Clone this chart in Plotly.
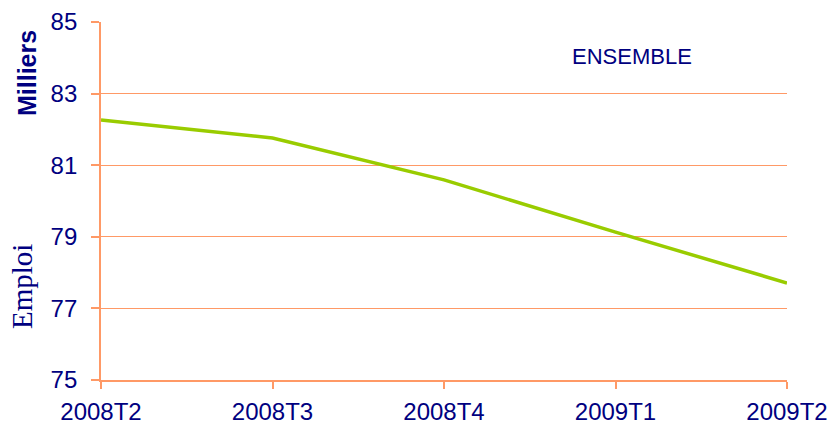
import plotly.graph_objects as go

categories = ["2008T2", "2008T3", "2008T4", "2009T1", "2009T2"]
emploi = [82.26, 81.76, 80.59, 79.13, 77.71]
y_ticks = [75, 77, 79, 81, 83, 85]

NAVY = "#000080"
GRID = "#FF9966"
LINE = "#99CC00"

W, H = 831, 430
l, r, t, b = 101, 44, 22, 50
pw, ph = W - l - r, H - t - b


def px(xp, yp):
    return (xp - l) / pw, 1 - (yp - t) / ph


fig = go.Figure()
fig.add_trace(go.Scatter(x=categories, y=emploi, mode="lines",
                         line=dict(color=LINE, width=3.5), showlegend=False,
                         hoverinfo="x+y"))

fig.update_layout(
    width=W, height=H,
    margin=dict(l=l, r=r, t=t, b=b, autoexpand=False),
    paper_bgcolor="white", plot_bgcolor="white",
    font=dict(family="Liberation Sans, Arial", color=NAVY, size=24),
    xaxis=dict(type="category", range=[0, 4], showgrid=False, automargin=False,
               showline=True, linecolor=GRID, linewidth=1.5,
               ticks="outside", ticklen=7, tickcolor=GRID, tickwidth=1.5,
               ticklabelstandoff=2,
               tickfont=dict(size=24, color=NAVY), zeroline=False),
    yaxis=dict(range=[75, 85], tickvals=y_ticks, showgrid=True, automargin=False,
               gridcolor=GRID, gridwidth=1.3,
               showline=True, linecolor=GRID, linewidth=1.8,
               ticks="outside", ticklen=8, tickcolor=GRID, tickwidth=1.5,
               ticklabelstandoff=9,
               tickfont=dict(size=24, color=NAVY), zeroline=False),
)

ax, ay = px(632, 57)
fig.add_annotation(text="ENSEMBLE", x=ax, y=ay, xref="paper", yref="paper",
                   xanchor="center", yanchor="middle",
                   showarrow=False, font=dict(size=22, color=NAVY,
                                              family="Liberation Sans, Arial"))
mx, my = px(27, 73)
fig.add_annotation(text="<b>Milliers</b>", x=mx, y=my, xref="paper", yref="paper",
                   xanchor="center", yanchor="middle",
                   showarrow=False, textangle=-90,
                   font=dict(size=25, color=NAVY, family="Liberation Sans, Arial"))
ex, ey = px(22, 287)
fig.add_annotation(text="Emploi", x=ex, y=ey, xref="paper", yref="paper",
                   xanchor="center", yanchor="middle",
                   showarrow=False, textangle=-90,
                   font=dict(size=29, color=NAVY, family="Liberation Serif, Times New Roman"))

fig.write_html("out.html", config={"displayModeBar": False},
               post_script="document.body.style.margin='0';")
